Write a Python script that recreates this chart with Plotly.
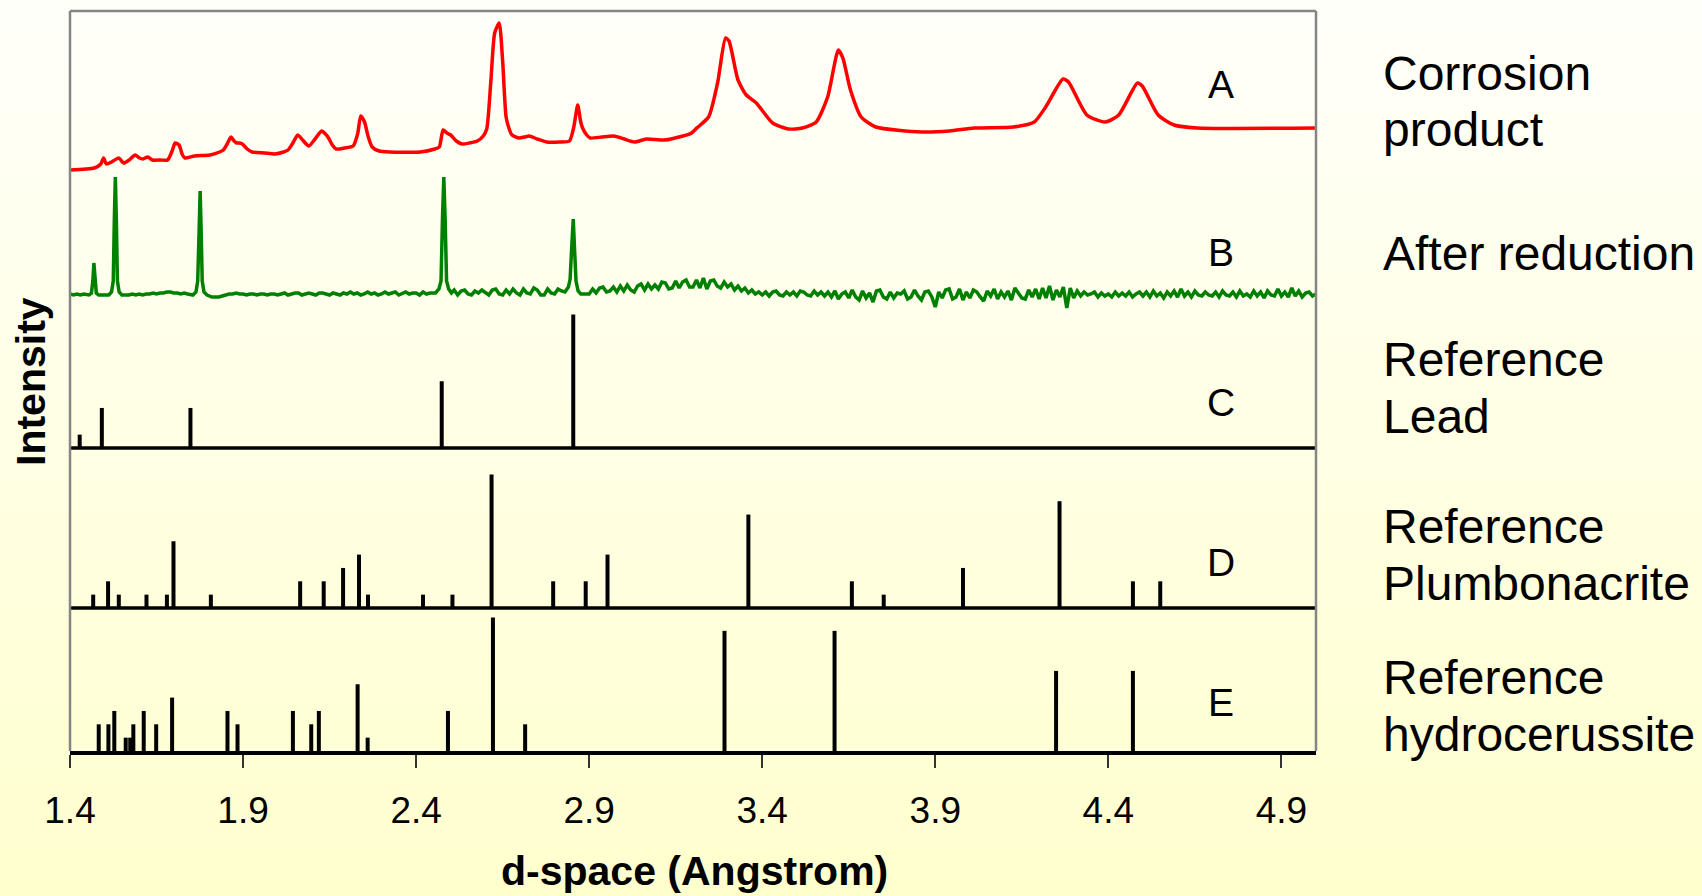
import plotly.graph_objects as go

# ---------------- data ----------------
tick_vals = [1.4, 1.9, 2.4, 2.9, 3.4, 3.9, 4.4, 4.9]
tick_text = ["1.4", "1.9", "2.4", "2.9", "3.4", "3.9", "4.4", "4.9"]

# A: corrosion product (arbitrary units above its own baseline)
corrosion_d = [1.400, 1.470, 1.489, 1.497, 1.505, 1.520, 1.541, 1.555, 1.571, 1.588,
               1.601, 1.611, 1.625, 1.638, 1.661, 1.682, 1.695, 1.704, 1.715, 1.725,
               1.732, 1.760, 1.804, 1.832, 1.843, 1.854, 1.865, 1.874, 1.881, 1.890,
               1.898, 1.912, 1.926, 1.962, 1.992, 2.017, 2.030, 2.044, 2.058, 2.072,
               2.090, 2.108, 2.127, 2.138, 2.147, 2.158, 2.169, 2.193, 2.218, 2.231,
               2.240, 2.251, 2.261, 2.273, 2.293, 2.323, 2.412, 2.454, 2.467, 2.478,
               2.489, 2.500, 2.516, 2.533, 2.554, 2.577, 2.594, 2.604, 2.616, 2.627,
               2.640, 2.650, 2.660, 2.669, 2.677, 2.698, 2.713, 2.727, 2.750, 2.777,
               2.815, 2.843, 2.855, 2.867, 2.875, 2.881, 2.893, 2.903, 2.936, 2.971,
               3.001, 3.031, 3.065, 3.118, 3.171, 3.196, 3.211, 3.245, 3.271, 3.294,
               3.304, 3.330, 3.354, 3.383, 3.430, 3.476, 3.516, 3.556, 3.589, 3.620,
               3.633, 3.655, 3.686, 3.728, 3.861, 3.941, 4.013, 4.126, 4.186, 4.219,
               4.269, 4.285, 4.338, 4.391, 4.430, 4.484, 4.498, 4.544, 4.590, 4.656,
               5.000]
corrosion_i = [21, 23, 27, 33, 27, 29, 33, 28, 31, 36,
               33, 32, 34, 31, 31, 31, 40, 48, 46, 36,
               33, 35, 36, 39, 41, 47, 54, 50, 48, 48,
               47, 42, 39, 38, 37, 39, 41, 48, 56, 51,
               45, 52, 60, 57, 53, 46, 42, 43, 45, 57,
               75, 69, 55, 44, 40, 39, 39, 42, 44, 61,
               58, 56, 50, 47, 48, 50, 55, 62, 110, 158,
               168, 130, 74, 62, 56, 53, 54, 55, 52, 49,
               49, 50, 63, 86, 70, 63, 56, 53, 54, 55,
               52, 49, 52, 51, 55, 58, 63, 74, 108, 153,
               150, 111, 96, 88, 68, 62, 63, 69, 94, 141,
               133, 101, 74, 64, 59, 60, 63, 64, 69, 84,
               112, 109, 76, 69, 76, 108, 105, 76, 66, 63,
               63]

# B: after reduction - noisy background sampled every 0.01 A from 1.40 to 5.00
reduction_bg_i = [
    17, 16, 17, 16, 17, 16, 16, 17, 16, 16,
    16, 17, 16, 16, 16, 17, 16, 16, 17, 16,
    17, 16, 17, 17, 18, 17, 18, 18, 19, 19,
    18, 18, 17, 18, 17, 17, 16, 16, 16, 16,
    15, 14, 14, 14, 15, 16, 17, 17, 18, 17,
    17, 16, 17, 17, 16, 17, 17, 16, 17, 17,
    16, 17, 18, 16, 17, 18, 18, 16, 17, 18,
    17, 16, 18, 18, 17, 16, 18, 17, 16, 18,
    17, 19, 17, 18, 16, 17, 19, 17, 18, 16,
    17, 19, 17, 18, 19, 16, 18, 19, 17, 18,
    18, 16, 19, 17, 18, 19, 17, 19, 17, 18,
    18, 21, 16, 20, 21, 17, 16, 20, 18, 21,
    19, 16, 21, 22, 17, 16, 21, 17, 22, 18,
    16, 22, 18, 17, 23, 21, 16, 16, 22, 18,
    17, 22, 20, 18, 21, 19, 17, 16, 15, 17,
    17, 22, 18, 23, 24, 19, 20, 24, 19, 25,
    20, 26, 21, 19, 25, 27, 21, 27, 22, 26,
    22, 29, 28, 22, 23, 30, 23, 29, 31, 24,
    24, 31, 23, 33, 22, 30, 31, 25, 23, 29,
    24, 27, 21, 25, 20, 23, 18, 21, 17, 19,
    16, 19, 15, 19, 20, 16, 15, 19, 16, 19,
    15, 20, 19, 16, 15, 20, 16, 19, 15, 19,
    14, 20, 12, 17, 19, 13, 21, 14, 11, 20,
    13, 18, 9, 20, 21, 14, 12, 19, 13, 18,
    17, 20, 12, 14, 21, 15, 11, 19, 20, 14,
    4, 19, 13, 21, 22, 12, 14, 22, 11, 19,
    13, 21, 19, 14, 10, 20, 15, 22, 12, 19,
    14, 20, 11, 23, 18, 13, 12, 21, 14, 22,
    12, 23, 13, 25, 11, 21, 14, 24, 3, 23,
    13, 20, 15, 19, 16, 17, 19, 14, 18, 15,
    17, 14, 19, 15, 18, 15, 19, 14, 17, 19,
    15, 19, 14, 20, 15, 18, 13, 19, 15, 20,
    14, 22, 15, 19, 14, 20, 16, 15, 19, 16,
    15, 19, 14, 20, 16, 15, 19, 14, 20, 15,
    17, 14, 20, 15, 19, 13, 20, 16, 15, 22,
    15, 19, 14, 23, 15, 20, 14, 18, 19, 15,
    17]
reduction_bg_d = [round(1.40 + 0.01 * k, 2) for k in range(len(reduction_bg_i))]

reduction_peak_d = [1.455, 1.462, 1.466, 1.469, 1.472, 1.476, 1.483,
                    1.512, 1.520, 1.525, 1.528, 1.531, 1.534, 1.537, 1.542, 1.550,
                    1.755, 1.764, 1.769, 1.773, 1.776, 1.779, 1.782, 1.787, 1.796,
                    2.456, 2.466, 2.472, 2.476, 2.480, 2.484, 2.488, 2.494, 2.502,
                    2.830, 2.840, 2.845, 2.849, 2.854, 2.858, 2.862, 2.868, 2.876]
reduction_peak_i = [16, 18, 30, 48, 30, 18, 16,
                    16, 19, 30, 90, 134, 90, 30, 19, 16,
                    16, 19, 30, 80, 120, 80, 30, 19, 16,
                    18, 22, 30, 90, 134, 90, 30, 22, 18,
                    19, 24, 32, 60, 92, 60, 30, 20, 17]

# C: reference lead (relative intensity, 0-100)
lead_d = [1.428, 1.492, 1.748, 2.474, 2.854]
lead_i = [10, 30, 30, 50, 100]

# D: reference plumbonacrite
plumbonacrite_d = [1.467, 1.510, 1.541, 1.621, 1.680, 1.699, 1.807, 2.065, 2.133, 2.189,
                   2.235, 2.261, 2.420, 2.505, 2.618, 2.796, 2.890, 2.953, 3.360, 3.659,
                   3.751, 3.980, 4.259, 4.471, 4.550]
plumbonacrite_i = [10, 20, 10, 10, 10, 50, 10, 20, 20, 30,
                   40, 10, 10, 10, 100, 20, 20, 40, 70, 20,
                   10, 30, 80, 20, 20]

# E: reference hydrocerussite
hydrocerussite_d = [1.483, 1.511, 1.528, 1.561, 1.574, 1.583, 1.613, 1.649, 1.695, 1.855,
                    1.884, 2.044, 2.097, 2.119, 2.231, 2.260, 2.492, 2.622, 2.715, 3.291,
                    3.609, 4.249, 4.471]
hydrocerussite_i = [20, 20, 30, 10, 10, 20, 30, 20, 40, 30,
                    20, 30, 20, 30, 50, 10, 30, 100, 20, 90,
                    90, 60, 60]

panel_letters = ["A", "B", "C", "D", "E"]
panel_names = [["Corrosion", "product"], ["After reduction"], ["Reference", "Lead"],
               ["Reference", "Plumbonacrite"], ["Reference", "hydrocerussite"]]

# ---------------- layout constants ----------------
W, H = 1702, 896
L, R, T, B = 70, 386, 11, 145
PW, PH = W - L - R, H - T - B          # plot area in px
Y_MAX = PH                             # y axis: 1 unit == 1 px
STICK_SCALE = 1.335                    # px per relative-intensity unit
OFF_A, OFF_B, OFF_C, OFF_D, OFF_E = 560, 440, 303, 143, 0
FONT = "Liberation Sans, Arial, sans-serif"


def px_to_paper_x(px):
    return (px - L) / PW


def px_to_paper_y(py):
    return (H - B - py) / PH


def sticks(ds, ints, base):
    xs, ys = [], []
    for d, i in zip(ds, ints):
        xs += [d, d, None]
        ys += [base, base + i * STICK_SCALE, None]
    return xs, ys


fig = go.Figure()

# A
fig.add_trace(go.Scatter(x=corrosion_d, y=[v + OFF_A for v in corrosion_i], mode="lines",
                         line=dict(color="#ff0000", width=3.5, shape="spline", smoothing=0.6),
                         hoverinfo="skip", showlegend=False))

# B: merge background with peak profiles
bx, by = [], []
for d, v in zip(reduction_bg_d, reduction_bg_i):
    if min(abs(d - p) for p in reduction_peak_d) >= 0.008:
        bx.append(d)
        by.append(v)
pts = sorted(list(zip(bx, by)) + list(zip(reduction_peak_d, reduction_peak_i)))
fig.add_trace(go.Scatter(x=[p[0] for p in pts], y=[p[1] + OFF_B for p in pts], mode="lines",
                         line=dict(color="#008000", width=3.5),
                         hoverinfo="skip", showlegend=False))

# C, D, E sticks
for ds, ints, base in [(lead_d, lead_i, OFF_C), (plumbonacrite_d, plumbonacrite_i, OFF_D),
                       (hydrocerussite_d, hydrocerussite_i, OFF_E)]:
    xs, ys = sticks(ds, ints, base)
    fig.add_trace(go.Scatter(x=xs, y=ys, mode="lines", line=dict(color="black", width=4),
                             hoverinfo="skip", showlegend=False))

shapes = []
# background gradient (page)
n_bands = 56
top_c = (255, 255, 250)
bot_c = (255, 255, 206)
for k in range(n_bands):
    f = (k + 0.5) / n_bands
    col = tuple(round(top_c[j] + (bot_c[j] - top_c[j]) * f) for j in range(3))
    y0 = k * H / n_bands
    y1 = (k + 1) * H / n_bands + 1
    shapes.append(dict(type="rect", xref="paper", yref="paper",
                       x0=px_to_paper_x(0), x1=px_to_paper_x(W),
                       y0=px_to_paper_y(y1), y1=px_to_paper_y(y0),
                       fillcolor="rgb(%d,%d,%d)" % col, line=dict(width=0), layer="below"))
# panel separators
for base in (OFF_C, OFF_D):
    shapes.append(dict(type="line", xref="paper", yref="y", x0=0, x1=1, y0=base, y1=base,
                       line=dict(color="black", width=3.5)))
# frame (top, left, right)
frame_col = "#858585"
shapes.append(dict(type="line", xref="paper", yref="paper", x0=0, x1=1, y0=1, y1=1,
                   line=dict(color=frame_col, width=2.5)))
shapes.append(dict(type="line", xref="paper", yref="paper", x0=0, x1=0, y0=0, y1=1,
                   line=dict(color=frame_col, width=2.5)))
shapes.append(dict(type="line", xref="paper", yref="paper", x0=1, x1=1, y0=0, y1=1,
                   line=dict(color=frame_col, width=2.5)))

annotations = []
letter_y = [85, 252, 403, 562, 702]
for letter, yy in zip(panel_letters, letter_y):
    annotations.append(dict(text=letter, xref="paper", yref="paper",
                            x=px_to_paper_x(1221), y=px_to_paper_y(yy),
                            xanchor="center", yanchor="middle", showarrow=False,
                            font=dict(family=FONT, size=39, color="black")))
name_y = [[73, 129], [254], [360, 417], [526, 583], [677, 734]]
for lines, ys in zip(panel_names, name_y):
    for txt, yy in zip(lines, ys):
        annotations.append(dict(text=txt, xref="paper", yref="paper",
                                x=px_to_paper_x(1381), y=px_to_paper_y(yy),
                                xanchor="left", yanchor="middle", showarrow=False,
                                font=dict(family=FONT, size=48, color="black")))
annotations.append(dict(text="<b>Intensity</b>", xref="paper", yref="paper",
                        x=px_to_paper_x(31), y=px_to_paper_y(381), textangle=-90,
                        xanchor="center", yanchor="middle", showarrow=False,
                        font=dict(family=FONT, size=41, color="black")))
annotations.append(dict(text="<b>d-space (Angstrom)</b>", xref="paper", yref="paper",
                        x=px_to_paper_x(694), y=px_to_paper_y(871),
                        xanchor="center", yanchor="middle", showarrow=False,
                        font=dict(family=FONT, size=41, color="black")))

fig.update_layout(
    width=W, height=H,
    margin=dict(l=L, r=R, t=T, b=B, pad=0),
    paper_bgcolor="rgb(255,255,228)",
    plot_bgcolor="rgba(0,0,0,0)",
    shapes=shapes,
    annotations=annotations,
    xaxis=dict(range=[1.4, 5.0], tickvals=tick_vals, ticktext=tick_text,
               ticks="outside", ticklen=13, tickwidth=1.5, tickcolor="#333333",
               ticklabelstandoff=11,
               showline=True, linecolor="black", linewidth=3.5,
               showgrid=False, zeroline=False,
               tickfont=dict(family=FONT, size=37, color="black")),
    yaxis=dict(range=[0, Y_MAX], visible=False, showgrid=False, zeroline=False),
)

fig.write_html(
    "out.html",
    config={"displayModeBar": False},
    post_script=("document.body.style.margin='0px';"
                 "document.body.style.overflow='hidden';"
                 "document.body.style.background='rgb(255,255,206)';"),
)
